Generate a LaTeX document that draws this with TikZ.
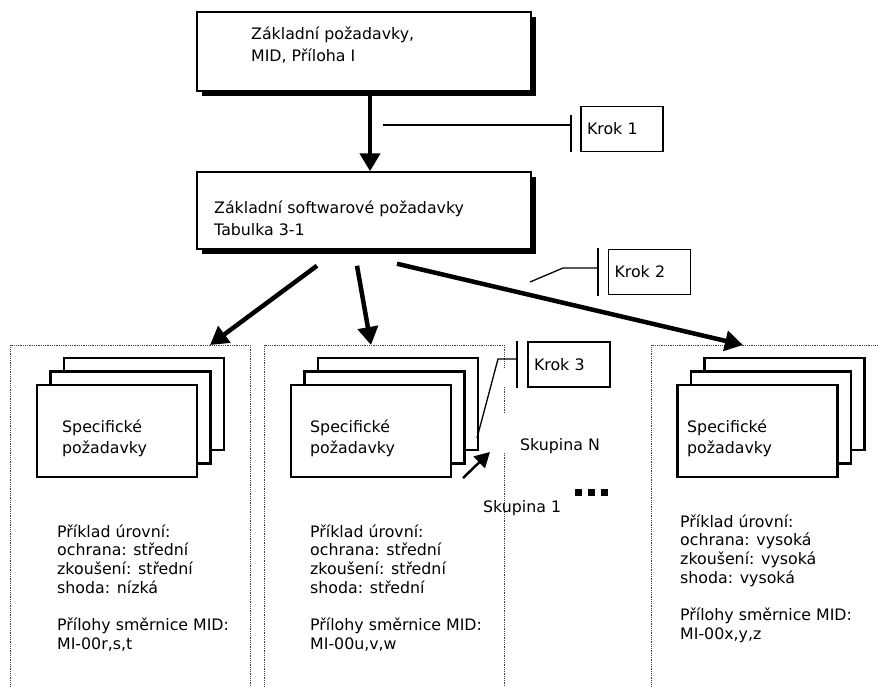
\documentclass[tikz,border=0pt]{standalone}
\usepackage{fontspec}
\setmainfont{DejaVu Sans}
\usetikzlibrary{arrows.meta,shadows}
\tikzset{
  hlavni/.style={draw, line width=1.5pt, fill=white, inner sep=0pt,
    drop shadow={shadow xshift=5pt, shadow yshift=-5pt, fill=black, opacity=1}},
  karta/.style={draw, line width=2.5pt, fill=white, inner sep=0pt,
    minimum width=160pt, minimum height=92pt},
  krok/.style={draw, line width=1.5pt, minimum width=82pt, minimum height=45pt,
    text width=70pt, align=left, inner xsep=0pt},
  txt/.style={anchor=base west, inner sep=0pt, align=left},
  tok/.style={line width=4.5pt, -{Triangle[length=18pt, width=20pt]}},
  ukaz/.style={line width=2.5pt, -{Triangle[length=15pt, width=16pt]}},
  vodic/.style={line width=1.3pt},
  pricka/.style={line width=2pt},
  panel/.style={densely dotted, line width=0.8pt, black!75}
}
\begin{document}
\begin{tikzpicture}[x=1pt, y=-1pt, font=\fontsize{15.8}{18.7}\selectfont]
  \useasboundingbox (0,0) rectangle (878,686);
  \draw[panel] (10,690) -- (10,345) -- (250,345) -- (250,690);
  \draw[panel] (264,690) -- (264,345) -- (504,345) -- (504,368);
  \draw[panel] (504,387) -- (504,413) (504,453) -- (504,690);
  \draw[panel] (651,690) -- (651,345) -- (880,345);

  \node[hlavni, minimum width=334pt, minimum height=79pt] (zp) at (364,51.5) {};
  \node[txt, font=\fontsize{15.8}{22}\selectfont] (zpt) at (251,61) {Základní požadavky,\\MID, Příloha I};
  \node[hlavni, minimum width=334pt, minimum height=77pt] (sp) at (364,210.5) {};
  \node[txt, font=\fontsize{15.8}{22}\selectfont] (spt) at (214,235) {Základní softwarové požadavky\\Tabulka 3-1};

  \foreach \n/\cx in {a/117, b/371, c/757.5} {
    \node[karta] (\n3) at (\cx+27,404) {};
    \node[karta] (\n2) at (\cx+13.5,417.5) {};
    \node[karta] (\n1) at (\cx,431) {};
  }
  \foreach \n/\tx in {a/62, b/310, c/687}
    \node[txt, font=\fontsize{15.8}{21}\selectfont] (\n t) at (\tx,453) {Specifické\\požadavky};

  \node[txt] (ua) at (57,649.2) {Příklad úrovní:\\ochrana: střední\\zkoušení: střední\\shoda: nízká\\[18.7pt]Přílohy směrnice MID:\\MI-00r,s,t};
  \node[txt] (ub) at (310,649.2) {Příklad úrovní:\\ochrana: střední\\zkoušení: střední\\shoda: střední\\[18.7pt]Přílohy směrnice MID:\\MI-00u,v,w};
  \node[txt] (uc) at (680,639.2) {Příklad úrovní:\\ochrana: vysoká\\zkoušení: vysoká\\shoda: vysoká\\[18.7pt]Přílohy směrnice MID:\\MI-00x,y,z};

  \node[krok] (k1) at (622,129) {Krok 1};
  \node[krok] (k2) at (649.5,272) {Krok 2};
  \node[krok] (k3) at (569,364.5) {Krok 3};

  \node[txt] (sN) at (520,450) {Skupina N};
  \node[txt] (s1) at (483,512) {Skupina 1};
  \foreach \i in {0,1,2}
    \fill (575+13*\i,489) rectangle ++(6.5,6.5);

  \coordinate (pa) at (210,345);
  \coordinate (pb) at (371,345);
  \coordinate (pc) at (743,345);
  \draw[tok] ([xshift=6pt]zp.south) -- ([xshift=6pt]sp.north);
  \draw[tok] ([xshift=-47pt,yshift=-16pt]sp.south) -- (pa);
  \draw[tok] ([xshift=-7pt,yshift=-16pt]sp.south) -- (pb);
  \draw[tok] ([xshift=33pt,yshift=-14pt]sp.south) -- (pc);

  \coordinate (k1z) at (383,125);
  \coordinate (k1b) at ([xshift=-9pt]k1.west);
  \draw[vodic] (k1z) -- (k1z -| k1b);
  \draw[pricka] ([xshift=-9pt]k1.south west) -- ([xshift=-9pt,yshift=-9pt]k1.north west);

  \coordinate (k2z) at (530,282);
  \coordinate (k2m) at (563,268);
  \coordinate (k2b) at ([xshift=-10pt]k2.west);
  \draw[vodic] (k2z) -- (k2m) -- (k2m -| k2b);
  \draw[pricka] ([xshift=-10pt,yshift=-1pt]k2.south west) -- ([xshift=-10pt,yshift=1pt]k2.north west);

  \coordinate (k3z) at (477,438);
  \coordinate (k3m) at (498,359);
  \coordinate (k3b) at ([xshift=-10pt]k3.west);
  \draw[vodic] (k3z) -- (k3m) -- (k3m -| k3b);
  \draw[pricka] ([xshift=-10pt]k3.south west) -- ([xshift=-10pt]k3.north west);

  \coordinate (u1) at (463,478);
  \coordinate (uN) at (490,452);
  \draw[ukaz] (u1) -- (uN);
\end{tikzpicture}
\end{document}
